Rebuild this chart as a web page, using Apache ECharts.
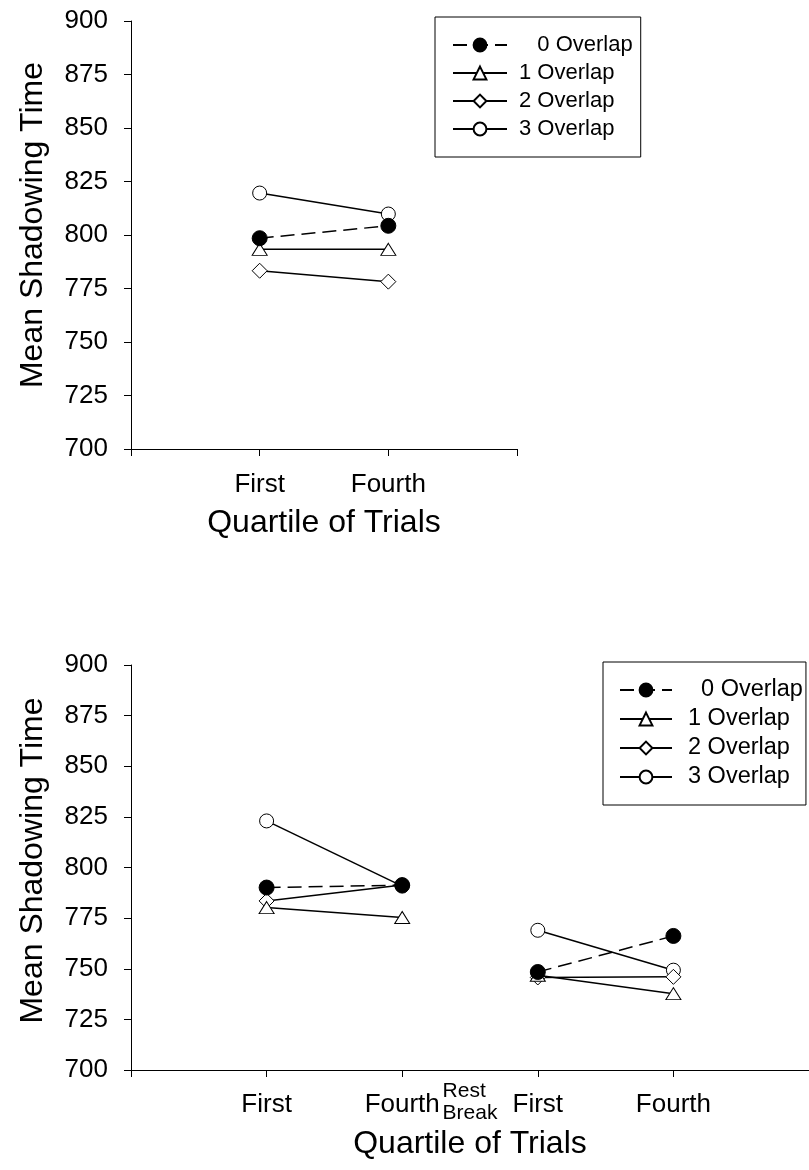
<!DOCTYPE html>
<html>
<head>
<meta charset="utf-8">
<script src="https://cdn.jsdelivr.net/npm/echarts@6/dist/echarts.min.js"></script>
<style>
html,body{margin:0;padding:0;background:#fff;}
#c{width:809px;height:1170px;}
</style>
</head>
<body>
<div id="c"></div>
<script>
// ---- data ----
const seriesNames = ['0 Overlap', '1 Overlap', '2 Overlap', '3 Overlap'];
// top figure: x positions 1 = First, 2 = Fourth
const topTickLabels = {1: 'First', 2: 'Fourth'};
const topX = [1, 2];
const top0 = [798.5, 804.3];
const top1 = [793.3, 793.3];
const top2 = [783.3, 778.2];
const top3 = [819.6, 809.8];
// bottom figure: session before rest break (x 1,2) and after (x 3,4)
const bottomTickLabels = {1: 'First', 2: 'Fourth', 3: 'First', 4: 'Fourth'};
const restBreakLabel = 'Rest\nBreak';
const bottomXa = [1, 2];
const bottomXb = [3, 4];
const bot0a = [790.1, 791.3];
const bot1a = [780.2, 775.3];
const bot2a = [783.5, 791.3];
const bot3a = [823.0, 790.8];
const bot0b = [748.4, 766.2];
const bot1b = [746.8, 737.7];
const bot2b = [745.7, 746.0];
const bot3b = [769.0, 749.3];
const yTicks = {min: 700, max: 900, interval: 25};

// ---- styles ----
const FONT = 'Liberation Sans, Arial, sans-serif';
const styles = [
  {symbol: 'circle', symbolSize: 15, itemStyle: {color: '#000', borderColor: '#000', borderWidth: 1}, lineStyle: {color: '#000', width: 1.5, type: [14, 7]}},
  {symbol: 'triangle', symbolSize: [15, 12], itemStyle: {color: '#fff', borderColor: '#000', borderWidth: 1}, lineStyle: {color: '#000', width: 1.5}},
  {symbol: 'diamond', symbolSize: [15, 15], itemStyle: {color: '#fff', borderColor: '#000', borderWidth: 1}, lineStyle: {color: '#000', width: 1.5}},
  {symbol: 'circle', symbolSize: 14, itemStyle: {color: '#fff', borderColor: '#000', borderWidth: 1}, lineStyle: {color: '#000', width: 1.5}}
];
const zOrder = [5, 4, 3, 2];

function pts(xs, ys) { return xs.map((x, i) => [x, ys[i]]); }
function mk(idx, grid, data) {
  const s = styles[idx];
  return {
    name: seriesNames[idx], type: 'line', xAxisIndex: grid, yAxisIndex: grid,
    data: data, symbol: s.symbol, symbolSize: s.symbolSize,
    itemStyle: s.itemStyle, lineStyle: s.lineStyle, z: zOrder[idx],
    emphasis: {disabled: true}, silent: true
  };
}

const axisLineStyle = {lineStyle: {color: '#000', width: 1}};
function yAxisCfg(grid, shift) {
  return {
    type: 'value', gridIndex: grid, min: yTicks.min, max: yTicks.max, interval: yTicks.interval,
    name: 'Mean Shadowing Time', nameLocation: 'middle', nameGap: 82,
    nameTextStyle: {fontSize: 32, fontFamily: FONT, color: '#000', padding: [0, 0, 0, shift]},
    axisLine: Object.assign({show: true}, axisLineStyle),
    axisTick: {show: true, length: 7, lineStyle: {color: '#000', width: 1}},
    axisLabel: {fontSize: 26, fontFamily: FONT, color: '#000', margin: 23},
    splitLine: {show: false}
  };
}
const nameStyle = {fontSize: 32, fontFamily: FONT, color: '#000'};
const mainLabelRich = {
  m: {fontSize: 26, lineHeight: 50, fontFamily: FONT, color: '#000'},
  rb: {fontSize: 21, lineHeight: 22, fontFamily: FONT, color: '#000', align: 'left'}
};

const legendBase = {
  orient: 'vertical', borderColor: '#000', borderWidth: 1, backgroundColor: '#fff',
  data: seriesNames, selectedMode: false
};

const option = {
  animation: false,
  backgroundColor: '#fff',
  grid: [
    {left: 131, top: 21, width: 386, height: 428},
    {left: 131, top: 665, width: 689, height: 405}
  ],
  xAxis: [
    {
      type: 'value', gridIndex: 0, min: 0, max: 3, interval: 1,
      name: 'Quartile of Trials', nameLocation: 'middle', nameGap: 58, nameTextStyle: nameStyle,
      axisLine: Object.assign({show: true, onZero: false}, axisLineStyle),
      axisTick: {show: true, length: 7, lineStyle: {color: '#000', width: 1}},
      axisLabel: {color: '#000', margin: 11, customValues: [1, 2], rich: mainLabelRich,
        formatter: v => '{m|' + (topTickLabels[v] || '') + '}'},
      splitLine: {show: false}
    },
    {
      type: 'value', gridIndex: 1, min: 0, max: 5, interval: 1,
      name: 'Quartile of Trials', nameLocation: 'middle', nameGap: 58, nameTextStyle: nameStyle,
      axisLine: Object.assign({show: true, onZero: false}, axisLineStyle),
      axisTick: {show: true, length: 7, customValues: [0, 1, 2, 3, 4, 5], lineStyle: {color: '#000', width: 1}},
      axisLabel: {
        color: '#000', margin: 10,
        customValues: [1, 2, 2.5, 3, 4],
        formatter: v => v === 2.5 ? '{rb|' + restBreakLabel.split('\n').join('}\n{rb|') + '}' : '{m|' + (bottomTickLabels[v] || '') + '}',
        rich: mainLabelRich
      },
      splitLine: {show: false}
    }
  ],
  yAxis: [yAxisCfg(0, 20), yAxisCfg(1, 14)],
  legend: [
    Object.assign({}, legendBase, {
      left: 435, top: 17, padding: [17, 8, 17, 17], itemGap: 6, itemWidth: 54, itemHeight: 16,
      formatter: n => n === '0 Overlap' ? '   ' + n : n,
      textStyle: {fontSize: 22, fontFamily: FONT, color: '#000', padding: [0, 0, 0, 7], lineHeight: 22}
    }),
    Object.assign({}, legendBase, {
      left: 603, top: 662, padding: [16, 3, 16, 16], itemGap: 5, itemWidth: 52, itemHeight: 16,
      formatter: n => n === '0 Overlap' ? '  ' + n : n,
      textStyle: {fontSize: 23.5, fontFamily: FONT, color: '#000', padding: [0, 0, 0, 11], lineHeight: 24}
    })
  ],
  series: [
    mk(3, 0, pts(topX, top3)), mk(2, 0, pts(topX, top2)), mk(1, 0, pts(topX, top1)), mk(0, 0, pts(topX, top0)),
    mk(3, 1, pts(bottomXa, bot3a)), mk(2, 1, pts(bottomXa, bot2a)), mk(1, 1, pts(bottomXa, bot1a)), mk(0, 1, pts(bottomXa, bot0a)),
    mk(3, 1, pts(bottomXb, bot3b)), mk(2, 1, pts(bottomXb, bot2b)), mk(1, 1, pts(bottomXb, bot1b)), mk(0, 1, pts(bottomXb, bot0b))
  ]
};
const chart = echarts.init(document.getElementById('c'), null, {renderer: 'canvas'});
chart.setOption(option);
</script>
</body>
</html>
